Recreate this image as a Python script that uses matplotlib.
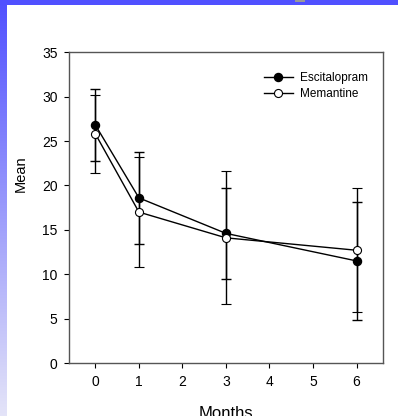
import numpy as np
import matplotlib
matplotlib.use("Agg")
import matplotlib.pyplot as plt
from matplotlib.patches import Rectangle

plt.rcParams["font.family"] = ["Liberation Sans", "DejaVu Sans"]

# data
months = [0, 1, 3, 6]
esc_mean = [26.8, 18.6, 14.6, 11.5]
esc_sd = [4.1, 5.2, 5.1, 6.6]
mem_mean = [25.8, 17.0, 14.1, 12.7]
mem_sd = [4.4, 6.2, 7.5, 7.0]
xticks = [0, 1, 2, 3, 4, 5, 6]
yticks = [0, 5, 10, 15, 20, 25, 30, 35]

fig = plt.figure(figsize=(3.98, 4.16), dpi=100)

# blue frame of the slide behind the chart
bg = fig.add_axes([0, 0, 1, 1], zorder=-10)
bg.set_axis_off()
grad = np.linspace(0, 1, 256).reshape(-1, 1)
top_c = np.array([80, 80, 255]) / 255
bot_c = np.array([228, 228, 248]) / 255
img = top_c + (bot_c - top_c) * grad[:, :, None]
bg.imshow(img, extent=[0, 7, 416, 0], aspect="auto")
bg.add_patch(Rectangle((0, 0), 398, 5, color="#5050ff", lw=0))
bg.add_patch(Rectangle((295, 0), 10, 2, color="#999999", lw=0))
bg.set_xlim(0, 398)
bg.set_ylim(416, 0)

ax = fig.add_axes([0.1741, 0.1274, 0.7873, 0.7469])
ax.set_facecolor("none")

ax.errorbar(months, esc_mean, yerr=esc_sd, color="black", lw=1, elinewidth=1,
            capsize=3.3, capthick=1, marker="o", ms=5.8, mfc="black", mec="black",
            label="Escitalopram")
ax.errorbar(months, mem_mean, yerr=mem_sd, color="black", lw=1, elinewidth=1,
            capsize=3.3, capthick=1, marker="o", ms=5.8, mfc="white", mec="black",
            mew=0.8, label="Memantine")

ax.set_xlim(-0.6, 6.6)
ax.set_ylim(0, 35)
ax.set_xticks(xticks)
ax.set_yticks(yticks)
ax.tick_params(direction="out", length=3.5, width=0.8, labelsize=10, pad=5,
               top=False, right=False)
for s in ax.spines.values():
    s.set_color("#555555")
    s.set_linewidth(1)

ax.set_ylabel("Mean", fontsize=10.5)
ax.yaxis.set_label_coords(-0.132, 0.608)
ax.set_xlabel("Months", fontsize=12)
ax.xaxis.set_label_coords(0.5, -0.138)

handles, labels = ax.get_legend_handles_labels()
handles = [h[0] for h in handles]
ax.legend(handles, labels, loc="upper right", bbox_to_anchor=(0.952, 0.935),
          frameon=False, fontsize=8.5, handlelength=2.4, handletextpad=0.6,
          borderpad=0, borderaxespad=0, labelspacing=0.3)

fig.savefig("out.png", dpi=100)
